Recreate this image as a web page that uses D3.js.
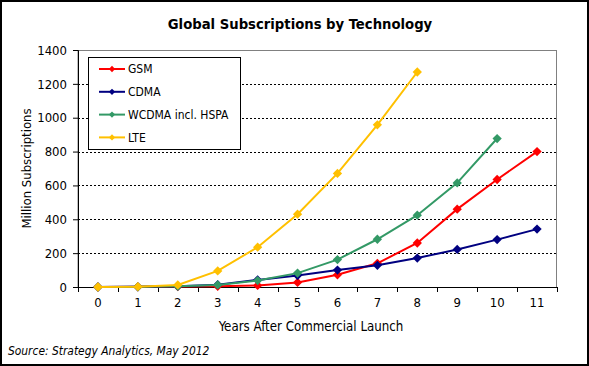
<!DOCTYPE html>
<html>
<head>
<meta charset="utf-8">
<script src="https://cdn.jsdelivr.net/npm/d3@7"></script>
<style>
  body { margin: 0; background: #fff; }
  text { font-family: "DejaVu Sans Condensed", "DejaVu Sans", sans-serif; fill: #000; }
</style>
</head>
<body>
<svg id="chart" width="589" height="366"></svg>
<script>
var years = ["0", "1", "2", "3", "4", "5", "6", "7", "8", "9", "10", "11"];
var yTicks = [0, 200, 400, 600, 800, 1000, 1200, 1400];

var gsm   = [0, 1, 3, 4, 9, 27, 72, 140, 260, 460, 635, 800];
var cdma  = [0, 1, 5, 14, 42, 68, 100, 128, 171, 222, 280, 342];
var wcdma = [0, 1, 4, 12, 38, 82, 162, 282, 424, 615, 877];
var lte   = [0, 2, 12, 95, 235, 430, 671, 958, 1270];

var seriesNames = ["GSM", "CDMA", "WCDMA incl. HSPA", "LTE"];
var seriesColors = ["#ff0000", "#000080", "#339966", "#ffc000"];
var seriesValues = [gsm, cdma, wcdma, lte];

var margin = {top: 50, left: 78, right: 32, bottom: 79},
	width = 589 - margin.left - margin.right,
	height = 366 - margin.top - margin.bottom;

var svg = d3.select("#chart");

// outer frame
svg.append("rect")
	.attr("x", 1).attr("y", 1)
	.attr("width", 587).attr("height", 364)
	.attr("fill", "none")
	.attr("stroke", "#000")
	.attr("stroke-width", 2);

svg.append("text")
	.attr("x", 300).attr("y", 29)
	.attr("text-anchor", "middle")
	.style("font-weight", "bold")
	.style("font-size", "14.7px")
	.text("Global Subscriptions by Technology");

var g = svg.append("g")
	.attr("transform", "translate(" + margin.left + ", " + margin.top + ")");

var x = d3.scaleBand()
	.domain(years)
	.range([0, width]);

var y = d3.scaleLinear()
	.domain([0, 1400])
	.range([height, 0]);

// plot area border (top/right grey)
g.append("rect")
	.attr("x", 0).attr("y", 0.5)
	.attr("width", width - 0.5).attr("height", height)
	.attr("fill", "none")
	.attr("stroke", "#808080")
	.attr("stroke-width", 1);

// dotted gridlines
g.selectAll(".grid")
	.data(yTicks.filter(function(d) { return d > 0 && d < 1400; }))
	.enter()
	.append("line")
	.attr("class", "grid")
	.attr("x1", 0).attr("x2", width)
	.attr("y1", function(d) { return Math.round(y(d)) + 0.5; })
	.attr("y2", function(d) { return Math.round(y(d)) + 0.5; })
	.attr("stroke", "#000")
	.attr("stroke-dasharray", "2,2");

// y axis
var yAxis = g.append("g")
	.call(d3.axisLeft(y).tickValues(yTicks).tickFormat(d3.format("d")).tickSize(5).tickPadding(6));
yAxis.selectAll("text").style("font-size", "13px");
yAxis.select(".domain").attr("stroke", "#000");

// x axis with ticks on band boundaries
var xAxis = g.append("g")
	.attr("transform", "translate(0," + height + ")")
	.call(d3.axisBottom(x).tickSize(0).tickPadding(11));
xAxis.selectAll("text").style("font-size", "13px");
xAxis.select(".domain").attr("stroke", "#000");
xAxis.selectAll(".bound")
	.data(d3.range(years.length + 1))
	.enter()
	.append("line")
	.attr("class", "bound")
	.attr("x1", function(i) { return Math.round(i * x.bandwidth()) + 0.5; })
	.attr("x2", function(i) { return Math.round(i * x.bandwidth()) + 0.5; })
	.attr("y1", 0).attr("y2", 5)
	.attr("stroke", "#000");

svg.append("text")
	.attr("transform", "translate(31," + (margin.top + height / 2) + ") rotate(-90)")
	.attr("text-anchor", "middle")
	.style("font-size", "13px")
	.text("Million Subscriptions");

svg.append("text")
	.attr("x", 311).attr("y", 331)
	.attr("text-anchor", "middle")
	.style("font-size", "13.2px")
	.text("Years After Commercial Launch");

svg.append("text")
	.attr("x", 8).attr("y", 355)
	.style("font-size", "11.9px")
	.style("font-style", "italic")
	.text("Source: Strategy Analytics, May 2012");

var line = d3.line()
	.x(function(d, i) { return x(years[i]) + x.bandwidth() / 2; })
	.y(function(d) { return y(d); });

var diamond = d3.symbol().type(d3.symbolDiamond2).size(55);

for (var s = 0; s < seriesValues.length; s++) {
	var sg = g.append("g");
	sg.append("path")
		.datum(seriesValues[s])
		.attr("d", line)
		.attr("fill", "none")
		.attr("stroke", seriesColors[s])
		.attr("stroke-width", 2);
	sg.selectAll(".pt")
		.data(seriesValues[s])
		.enter()
		.append("path")
		.attr("class", "pt")
		.attr("d", diamond)
		.attr("transform", function(d, i) {
			return "translate(" + (x(years[i]) + x.bandwidth() / 2) + "," + y(d) + ")";
		})
		.attr("fill", seriesColors[s]);
}

// legend
var legend = svg.append("g");
legend.append("rect")
	.attr("x", 88.5).attr("y", 57.5)
	.attr("width", 152).attr("height", 92)
	.attr("fill", "#fff")
	.attr("stroke", "#000");

var items = legend.selectAll(".item")
	.data(seriesNames)
	.enter()
	.append("g")
	.attr("class", "item")
	.attr("transform", function(d, i) { return "translate(0," + (69 + i * 22.8) + ")"; });
items.append("line")
	.attr("x1", 99).attr("x2", 125)
	.attr("stroke", function(d, i) { return seriesColors[i]; })
	.attr("stroke-width", 2);
items.append("path")
	.attr("d", d3.symbol().type(d3.symbolDiamond2).size(25))
	.attr("transform", "translate(112,0)")
	.attr("fill", function(d, i) { return seriesColors[i]; });
items.append("text")
	.attr("x", 128).attr("dy", "0.35em")
	.style("font-size", "12px")
	.text(function(d) { return d; });
</script>
</body>
</html>
